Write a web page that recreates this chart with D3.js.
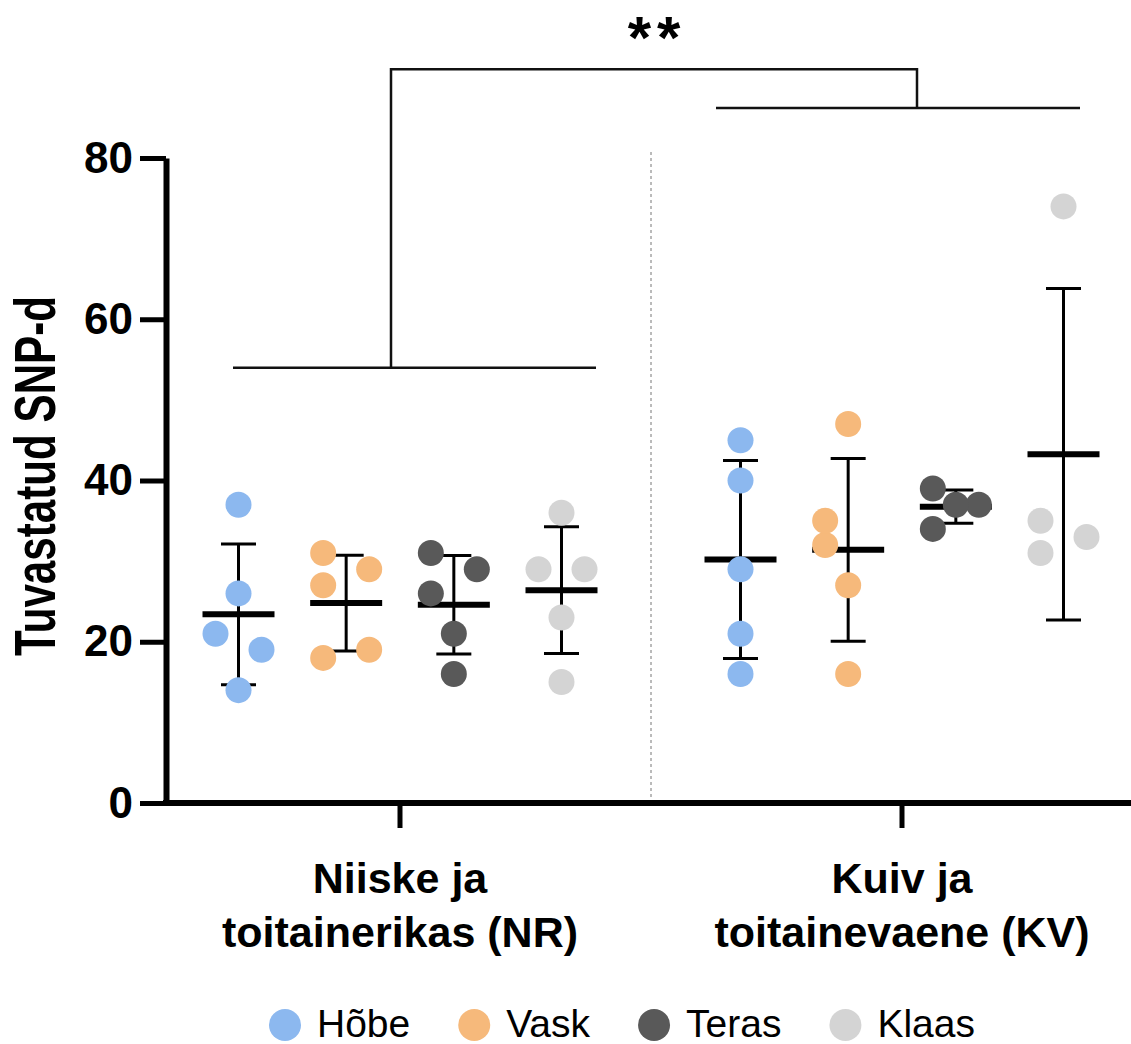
<!DOCTYPE html>
<html>
<head>
<meta charset="utf-8">
<script src="https://cdn.jsdelivr.net/npm/d3@7"></script>
<style>
  body { margin: 0; background: #fff; }
  svg { display: block; font-family: "Liberation Sans", Arial, sans-serif; }
</style>
</head>
<body>
<svg id="chart"></svg>
<script>
// data
const groups = ["NR", "KV"];
const groupLabels = [["Niiske ja", "toitainerikas (NR)"], ["Kuiv ja", "toitainevaene (KV)"]];
const series = ["Hõbe", "Vask", "Teras", "Klaas"];
const seriesColors = ["#8cb8ef", "#f6b97b", "#595959", "#d4d4d4"];

// replicate values, in sample order
const nrHobe = [37, 26, 21, 19, 14];
const nrVask = [31, 29, 27, 18, 19];
const nrTeras = [31, 29, 26, 21, 16];
const nrKlaas = [36, 29, 29, 23, 15];
const kvHobe = [45, 40, 29, 21, 16];
const kvVask = [47, 32, 35, 27, 16];
const kvTeras = [39, 37, 37, 34];
const kvKlaas = [74, 35, 33, 31];

const yTicks = [0, 20, 40, 60, 80];
const yLabel = "Tuvastatud SNP-d";
const sigLabel = "**";
// comparison bracket heights (y units)
const bracketNR = 54;
const bracketKV = 86.2;
const bracketTop = 91;

const values = {
  NR: [nrHobe, nrVask, nrTeras, nrKlaas],
  KV: [kvHobe, kvVask, kvTeras, kvKlaas],
};

// constants
const width = 1131;
const height = 1044;
const r = 13;
const slot = 23;

const svg = d3.select('svg#chart').attr('width', width).attr('height', height);

const x = d3.scaleBand().domain(groups).range([149, 1153]);
const xs = d3.scalePoint().domain(series).range([-161.5, 161.5]);
const y = d3.scaleLinear().domain([0, 80]).range([803, 158]);
const color = d3.scaleOrdinal(series, seriesColors);
const cx = (g, s) => x(g) + x.bandwidth() / 2 + xs(s);

// spread points sideways when they would overlap (like a scatter dot plot)
function dodge(vals) {
  const pys = vals.map(v => y(v));
  const placed = [];
  return pys.map((py, i) => {
    let s = 0;
    const crowded = pys.some((q, j) => j !== i && Math.abs(q - py) < 2 * r);
    if (crowded) {
      s = [-1, 1, 0, -2, 2].find(c => placed.every(p => Math.hypot((c - p.s) * slot, py - p.py) >= 20));
    }
    placed.push({s: s, py: py});
    return s;
  });
}

const stats = [];
const points = [];
groups.forEach(g => {
  series.forEach((s, si) => {
    const vals = values[g][si];
    const m = d3.mean(vals);
    const sd = d3.deviation(vals);
    stats.push({group: g, series: s, mean: m, lo: m - sd, hi: m + sd});
    const slots = dodge(vals);
    vals.forEach((v, i) => points.push({group: g, series: s, value: v, slot: slots[i]}));
  });
});

// divider between the two groups
const mid = x(groups[1]);
svg.append('line')
  .attr('x1', mid).attr('x2', mid)
  .attr('y1', 152).attr('y2', 800)
  .attr('stroke', '#777').attr('stroke-width', 1).attr('stroke-dasharray', '3,3');

// y axis
svg.append('g')
  .attr('transform', 'translate(166,0)')
  .call(d3.axisLeft(y).tickValues(yTicks).tickSize(26).tickSizeOuter(0).tickPadding(7))
  .call(g => g.select('.domain').attr('stroke', '#000').attr('stroke-width', 6))
  .call(g => g.selectAll('.tick line').attr('stroke', '#000').attr('stroke-width', 5))
  .call(g => g.selectAll('.tick text')
    .attr('font-size', 44).attr('font-weight', 'bold').attr('fill', '#000')
    .attr('font-family', '"Liberation Sans", Arial, sans-serif'));

// x axis
const xAxis = svg.append('g')
  .attr('transform', 'translate(0,803)')
  .call(d3.axisBottom(x).tickSize(25).tickSizeOuter(0))
  .call(g => g.select('.domain').remove())
  .call(g => g.selectAll('.tick line').attr('stroke', '#000').attr('stroke-width', 5))
  .call(g => g.selectAll('.tick text').remove());

xAxis.append('line')
  .attr('x1', 163).attr('x2', width)
  .attr('stroke', '#000').attr('stroke-width', 6);

xAxis.selectAll('.tick')
  .append('text')
  .attr('text-anchor', 'middle')
  .attr('font-size', 43)
  .attr('font-weight', 'bold')
  .attr('font-family', '"Liberation Sans", Arial, sans-serif')
  .attr('fill', '#000')
  .selectAll('tspan')
  .data(d => groupLabels[groups.indexOf(d)])
  .join('tspan')
  .attr('x', 0)
  .attr('y', (d, i) => 90 + i * 54)
  .text(d => d);

// y label
svg.append('text')
  .attr('transform', 'translate(55,476) rotate(-90) scale(0.74,1)')
  .attr('text-anchor', 'middle')
  .attr('font-size', 57)
  .attr('font-weight', 'bold')
  .text(yLabel);

// error bars (mean ± SD)
const bars = svg.append('g').attr('stroke', '#000');
bars.selectAll('line.whisker')
  .data(stats)
  .join('line')
  .attr('class', 'whisker')
  .attr('x1', d => cx(d.group, d.series)).attr('x2', d => cx(d.group, d.series))
  .attr('y1', d => y(d.hi)).attr('y2', d => y(d.lo))
  .attr('stroke-width', 3);

bars.selectAll('line.cap')
  .data(stats.flatMap(d => [{...d, v: d.hi}, {...d, v: d.lo}]))
  .join('line')
  .attr('class', 'cap')
  .attr('x1', d => cx(d.group, d.series) - 17.5).attr('x2', d => cx(d.group, d.series) + 17.5)
  .attr('y1', d => y(d.v)).attr('y2', d => y(d.v))
  .attr('stroke-width', 3);

bars.selectAll('line.mean')
  .data(stats)
  .join('line')
  .attr('class', 'mean')
  .attr('x1', d => cx(d.group, d.series) - 36).attr('x2', d => cx(d.group, d.series) + 36)
  .attr('y1', d => y(d.mean)).attr('y2', d => y(d.mean))
  .attr('stroke-width', 6);

// dots on top
svg.append('g')
  .selectAll('circle')
  .data(points)
  .join('circle')
  .attr('cx', d => cx(d.group, d.series) + d.slot * slot)
  .attr('cy', d => y(d.value))
  .attr('r', r)
  .attr('fill', d => color(d.series));

// significance brackets
const xNR = x('NR') + x.bandwidth() / 2;
const xKV = x('KV') + x.bandwidth() / 2;
const br = svg.append('g').attr('stroke', '#111').attr('stroke-width', 2.5).attr('fill', 'none');
br.append('line').attr('x1', xNR - 167).attr('x2', xNR + 196).attr('y1', y(bracketNR)).attr('y2', y(bracketNR));
br.append('line').attr('x1', xKV - 186).attr('x2', xKV + 178).attr('y1', y(bracketKV)).attr('y2', y(bracketKV));
br.append('path')
  .attr('d', `M${xNR - 9},${y(bracketNR)}V${y(bracketTop)}H${xKV + 15}V${y(bracketKV)}`);

svg.append('text')
  .attr('x', (xNR - 9 + xKV + 15) / 2 + 3)
  .attr('y', 58)
  .attr('text-anchor', 'middle')
  .attr('font-size', 60)
  .attr('font-weight', 'bold')
  .attr('letter-spacing', 6)
  .text(sigLabel);

// legend
const legend = svg.append('g').attr('transform', 'translate(0,1025)');
let lx = 285;
series.forEach(s => {
  const item = legend.append('g').attr('transform', 'translate(' + lx + ',0)');
  item.append('circle').attr('r', 16).attr('fill', color(s));
  const t = item.append('text')
    .attr('x', 32)
    .attr('y', 12)
    .attr('font-size', 39)
    .attr('fill', '#000')
    .text(s);
  lx += 32 + t.node().getComputedTextLength() + 64;
});
</script>
</body>
</html>
